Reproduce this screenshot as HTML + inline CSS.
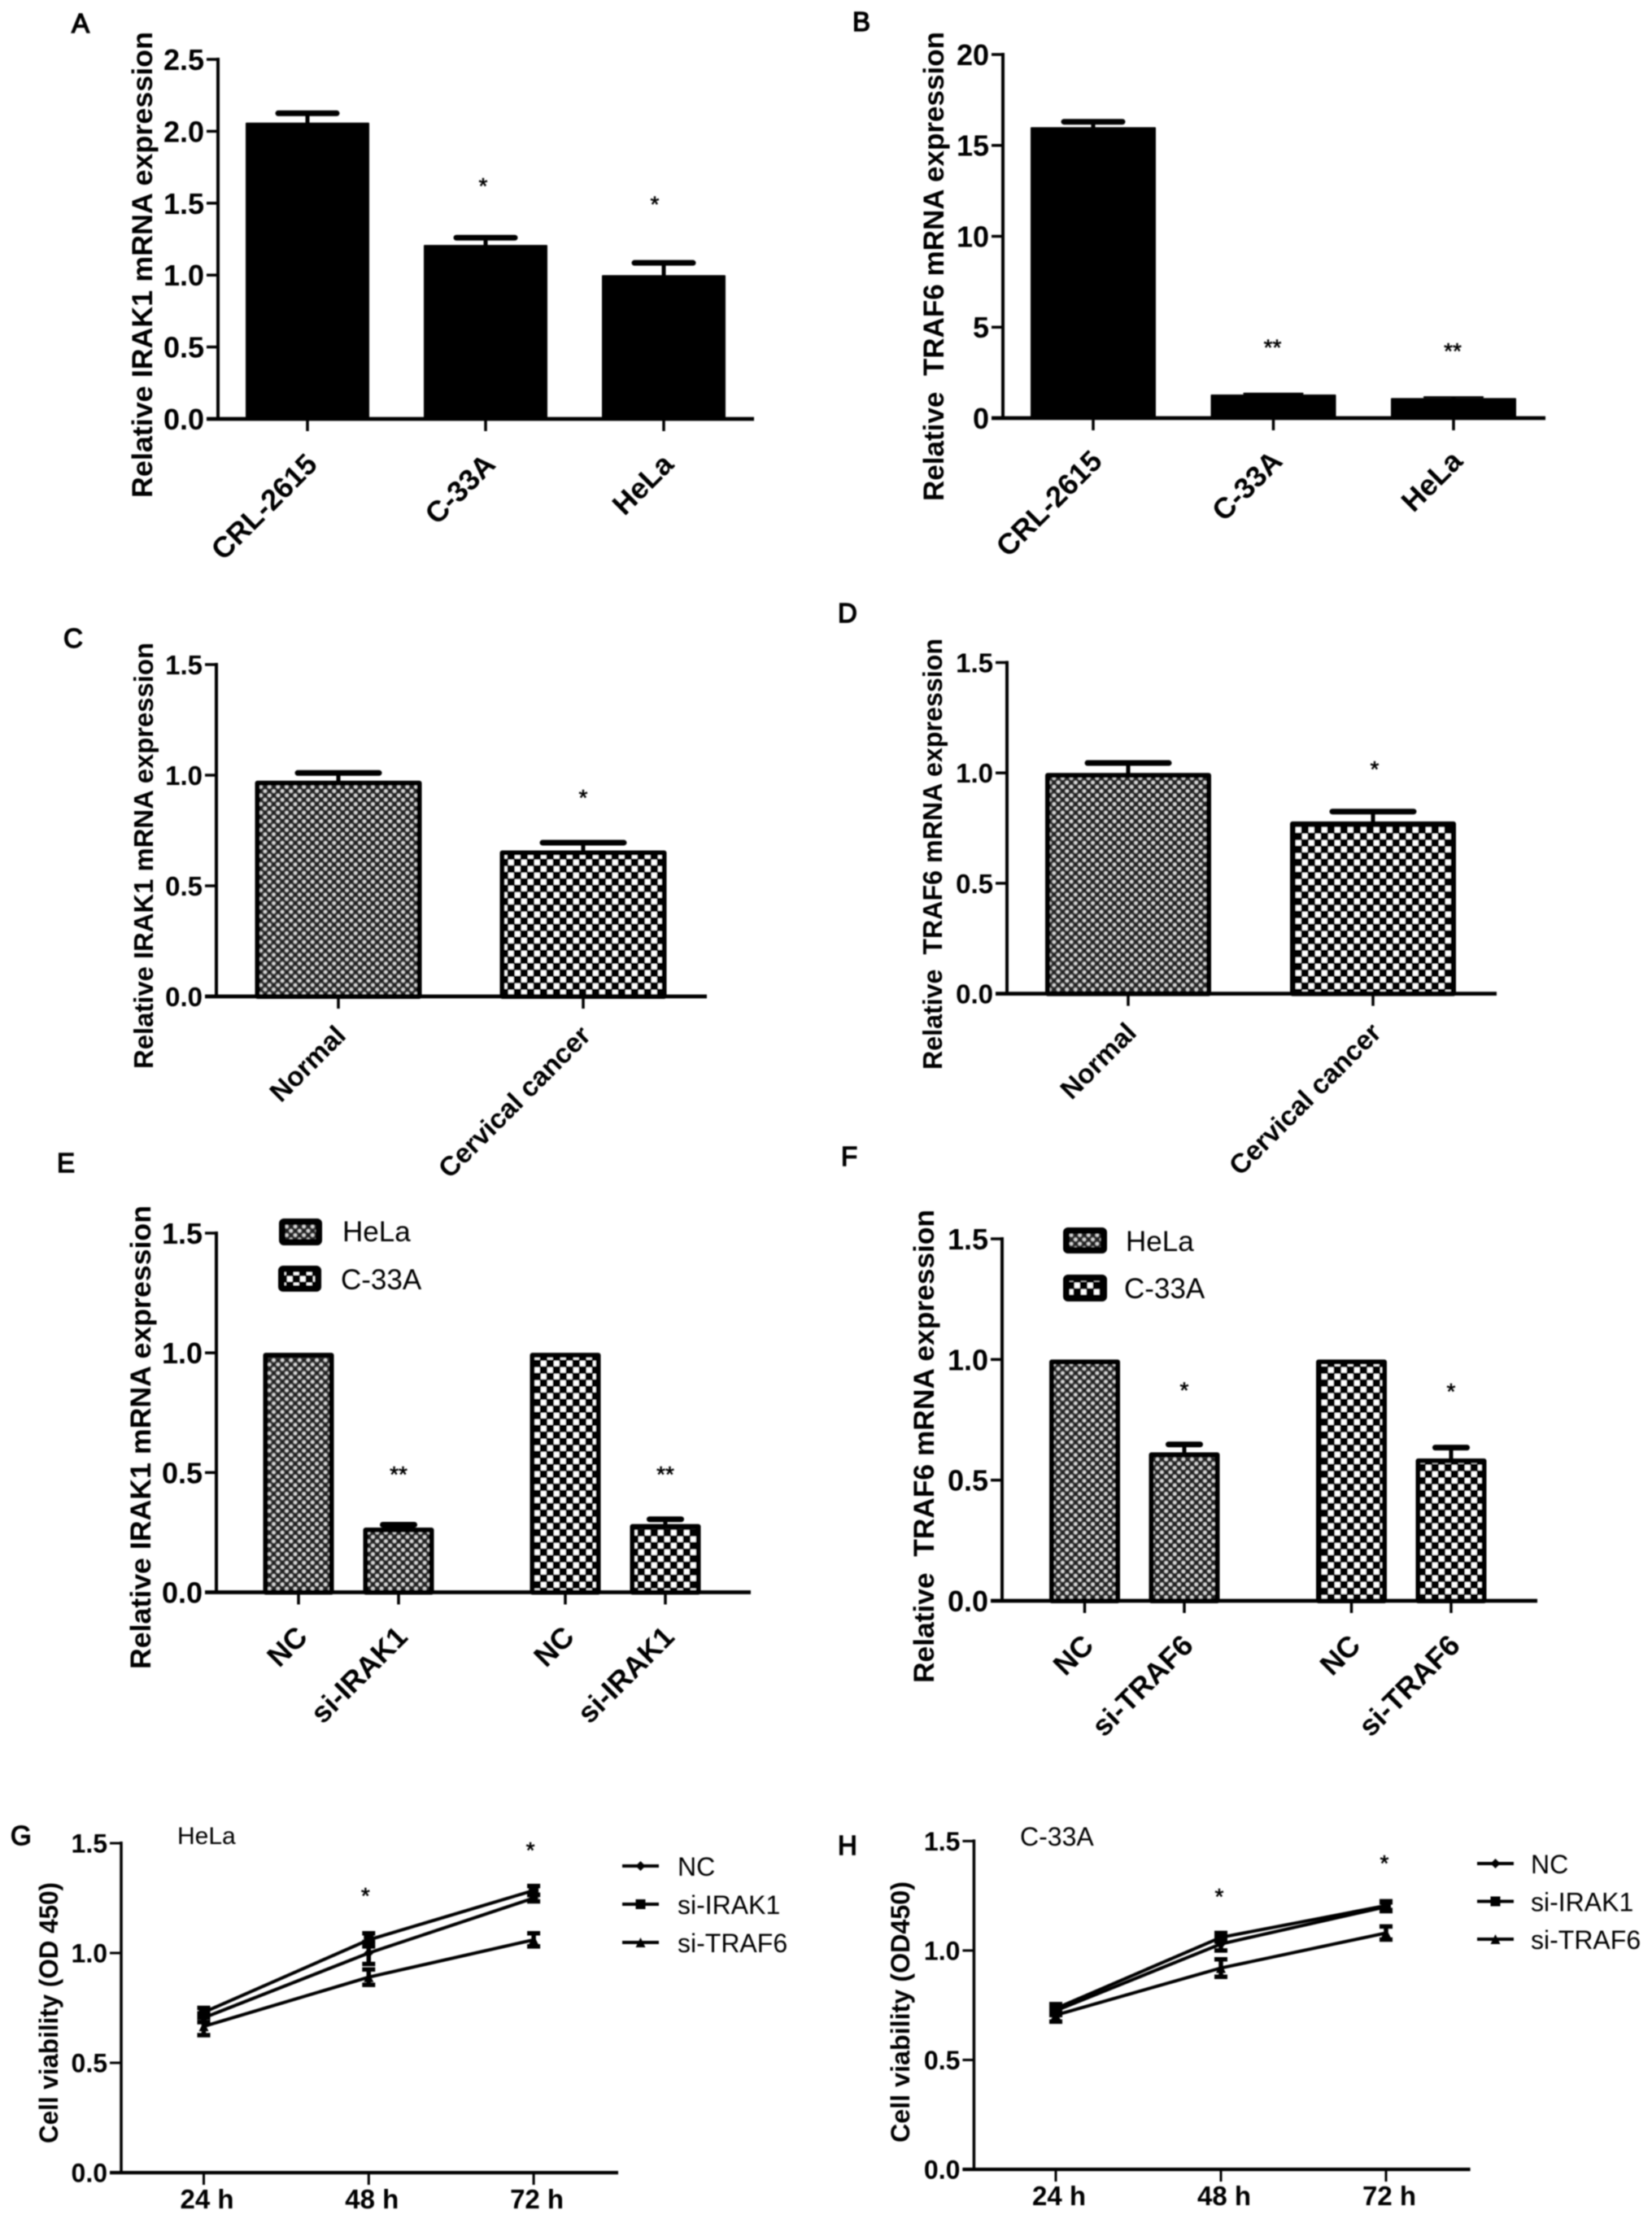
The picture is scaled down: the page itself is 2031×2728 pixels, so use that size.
<!DOCTYPE html>
<html lang="en">
<head>
<meta charset="utf-8">
<title>IRAK1 and TRAF6 expression and cell viability</title>
<style>
html,body{margin:0;padding:0;background:#fff;}
#figure{display:block;width:2031px;height:2728px;background:#fff;}
text{font-family:"Liberation Sans",sans-serif;fill:#000;}
</style>
</head>
<body>
<svg id="figure" xmlns="http://www.w3.org/2000/svg" width="2031" height="2728" viewBox="0 0 2031 2728">
  <defs>
    <filter id="soft" filterUnits="userSpaceOnUse" x="0" y="0" width="2031" height="2728"><feGaussianBlur stdDeviation="0.9"/></filter>
    <pattern id="fine-dots" patternUnits="userSpaceOnUse" width="10.6" height="10.6">
      <rect width="10.6" height="10.6" fill="#333"/>
      <circle cx="2.65" cy="2.65" r="2.2" fill="#d8d8d8"/>
      <circle cx="7.95" cy="7.95" r="2.2" fill="#d8d8d8"/>
      <circle cx="7.95" cy="2.65" r="1.1" fill="#000"/>
      <circle cx="2.65" cy="7.95" r="1.1" fill="#000"/>
    </pattern>
    <pattern id="checker" patternUnits="userSpaceOnUse" width="16" height="16">
      <rect width="16" height="16" fill="#000"/>
      <rect x="1" y="1" width="6.6" height="6.6" fill="#fff"/>
      <rect x="9" y="9" width="6.6" height="6.6" fill="#fff"/>
    </pattern>
  </defs>
  <g id="root" filter="url(#soft)"></g>
</svg>
<script>
// ---------- Panel A ----------
const panelA_categories = ["CRL-2615", "C-33A", "HeLa"];
const panelA_values = [2.06, 1.21, 1.0];
const panelA_errors = [0.065, 0.05, 0.085];
const panelA_stars = ["", "*", "*"];
const panelA_starLevels = [0, 1.646, 1.52];
const panelA_ticks = ["0.0", "0.5", "1.0", "1.5", "2.0", "2.5"];
// ---------- Panel B ----------
const panelB_categories = ["CRL-2615", "C-33A", "HeLa"];
const panelB_values = [16.0, 1.3, 1.1];
const panelB_errors = [0.3, 0.05, 0.05];
const panelB_stars = ["", "**", "**"];
const panelB_starLevels = [0, 4.1, 3.9];
const panelB_ticks = ["0", "5", "10", "15", "20"];
// ---------- Panel C ----------
const panelC_categories = ["Normal", "Cervical cancer"];
const panelC_values = [0.975, 0.66];
const panelC_errors = [0.035, 0.035];
const panelC_stars = ["", "*"];
const panelC_starLevels = [0, 0.915];
const panelC_ticks = ["0.0", "0.5", "1.0", "1.5"];
// ---------- Panel D ----------
const panelD_categories = ["Normal", "Cervical cancer"];
const panelD_values = [1.0, 0.78];
const panelD_errors = [0.045, 0.045];
const panelD_stars = ["", "*"];
const panelD_starLevels = [0, 1.034];
const panelD_ticks = ["0.0", "0.5", "1.0", "1.5"];
// ---------- Panel E ----------
const panelE_categories = ["NC", "si-IRAK1", "NC", "si-IRAK1"];
const panelE_values = [1.0, 0.27, 1.0, 0.285];
const panelE_errors = [0, 0.012, 0, 0.02];
const panelE_stars = ["", "**", "", "**"];
const panelE_starLevels = [0, 0.508, 0, 0.508];
const panelE_ticks = ["0.0", "0.5", "1.0", "1.5"];
const panelE_legend = ["HeLa", "C-33A"];
// ---------- Panel F ----------
const panelF_categories = ["NC", "si-TRAF6", "NC", "si-TRAF6"];
const panelF_values = [1.0, 0.615, 1.0, 0.59];
const panelF_errors = [0, 0.033, 0, 0.045];
const panelF_stars = ["", "*", "", "*"];
const panelF_starLevels = [0, 0.888, 0, 0.883];
const panelF_ticks = ["0.0", "0.5", "1.0", "1.5"];
const panelF_legend = ["HeLa", "C-33A"];
// ---------- Panel G ----------
const panelG_times = ["24 h", "48 h", "72 h"];
const panelG_nc = [0.705, 1.0, 1.25];
const panelG_irak1 = [0.73, 1.06, 1.285];
const panelG_traf6 = [0.666, 0.89, 1.06];
const panelG_ncErr = [0.02, 0.05, 0.015];
const panelG_irak1Err = [0.02, 0.03, 0.02];
const panelG_traf6Err = [0.04, 0.035, 0.03];
const panelG_stars = ["", "*", "*"];
const panelG_starLevels = [0, 1.278, 1.485];
const panelG_ticks = ["0.0", "0.5", "1.0", "1.5"];
// ---------- Panel H ----------
const panelH_times = ["24 h", "48 h", "72 h"];
const panelH_nc = [0.725, 1.03, 1.2];
const panelH_irak1 = [0.735, 1.06, 1.205];
const panelH_traf6 = [0.705, 0.92, 1.08];
const panelH_ncErr = [0.02, 0.03, 0.02];
const panelH_irak1Err = [0.02, 0.02, 0.02];
const panelH_traf6Err = [0.03, 0.04, 0.03];
const panelH_stars = ["", "*", "*"];
const panelH_starLevels = [0, 1.264, 1.416];
const panelH_ticks = ["0.0", "0.5", "1.0", "1.5"];
const lineSeriesNames = ["NC", "si-IRAK1", "si-TRAF6"];

const NS = "http://www.w3.org/2000/svg";
const root = document.getElementById("root");

function make(tag, parent, attrs) {
  const el = document.createElementNS(NS, tag);
  for (const k in attrs) el.setAttribute(k, attrs[k]);
  parent.appendChild(el);
  return el;
}

function slug(s) {
  return String(s).toLowerCase().replace(/[^a-z0-9]+/g, "-").replace(/^-|-$/g, "");
}

function addText(parent, name, str, x, y, size, opts) {
  const o = opts || {};
  const attrs = {x: x, y: y, "font-size": size, "text-anchor": o.anchor || "start", "font-weight": o.weight || "bold"};
  if (o.rotate !== undefined) attrs.transform = "rotate(" + o.rotate + " " + x + " " + y + ")";
  if (o.length) { attrs.textLength = o.length; attrs.lengthAdjust = "spacingAndGlyphs"; }
  const el = make("text", parent, attrs);
  el.textContent = str;
  
  
  return el;
}

function drawFrame(p) {
  const g = make("g", root, {});
  
  
  const maxV = parseFloat(p.ticks[p.ticks.length - 1]);
  const yScale = v => p.y0 - (v / maxV) * (p.y0 - p.yTop);
  const xScale = i => p.first + i * p.step + Math.floor(i / 2) * (p.groupGap || 0);

  const letter = addText(g, "panel-label-" + p.id.toLowerCase(), p.id, p.letter[0], p.letter[1], 33, {weight: "normal"});
  letter.setAttribute("stroke", "#000");
  letter.setAttribute("stroke-width", "1.4");

  const yAxis = make("line", g, {x1: p.x0, x2: p.x0, y1: p.yTop - 2, y2: p.y0 + 2, stroke: "#000", "stroke-width": p.axisW});
  
  
  const xAxis = make("line", g, {x1: p.x0 - 14, x2: p.xEnd, y1: p.y0, y2: p.y0, stroke: "#000", "stroke-width": p.axisW + 0.8});
  
  

  p.ticks.forEach(t => {
    const y = yScale(parseFloat(t));
    const tick = make("line", g, {x1: p.x0 - 14, x2: p.x0, y1: y, y2: y, stroke: "#000", "stroke-width": p.axisW - 0.5});
    
    
    addText(g, "y-tick-label-" + slug(t), t, p.x0 - 17, y + p.tickSize * 0.36, p.tickSize, {anchor: "end"});
  });

  p.categories.forEach((c, i) => {
    const x = xScale(i);
    const tick = make("line", g, {x1: x, x2: x, y1: p.y0, y2: p.y0 + 15, stroke: "#000", "stroke-width": p.axisW - 0.5});
    
    
    if (p.horizontal) {
      addText(g, "x-tick-label-" + slug(c), c, x + 4, p.y0 + 44, 33, {anchor: "middle"});
    } else {
      const ax = x + p.labelDx, ay = p.y0 + p.labelDy;
      addText(g, "x-tick-label-" + slug(c) + "-" + i, c, ax, ay, p.catSize, {anchor: "end", rotate: -45});
    }
  });

  const tx = p.title;
  addText(g, "y-axis-title", tx.text, tx.x, tx.y2, tx.size, {rotate: -90, length: tx.y2 - tx.y1});

  p.stars.forEach((s, i) => {
    if (!s) return;
    const shift = p.starShift ? p.starShift[i] : (p.starDx || 0);
    const x = xScale(i) + shift;
    const star = addText(g, "significance-marker-" + i, s, x, yScale(p.starLevels[i]) + 14, 28, {anchor: "middle", weight: "normal"});
    star.setAttribute("stroke", "#000");
    star.setAttribute("stroke-width", "0.6");
  });
  return {g: g, xScale: xScale, yScale: yScale};
}

function drawBars(p) {
  const f = drawFrame(p);
  p.values.forEach((v, i) => {
    const cx = f.xScale(i), top = f.yScale(v), w = p.barW, sw = p.border;
    const fill = p.fills[i];
    const errPx = top - f.yScale(v + p.errors[i]);
    if (errPx > 0) {
      const capThick = Math.min(7, errPx * 2);
      const cap = make("line", f.g, {x1: cx - p.capW / 2 + 3, x2: cx + p.capW / 2 - 3, y1: top - errPx, y2: top - errPx, stroke: "#000", "stroke-width": capThick, "stroke-linecap": "round"});
      
      
      const stem = make("line", f.g, {x1: cx, x2: cx, y1: top - errPx, y2: top + 2, stroke: "#000", "stroke-width": 5});
      
      
    }
    const bar = make("rect", f.g, {x: cx - w / 2 + sw / 2, y: top + sw / 2, width: w - sw, height: Math.max(0, p.y0 - top - sw / 2), fill: fill, stroke: "#000", "stroke-width": sw, "stroke-linejoin": "round"});
    
    
  });
  if (p.legend) {
    p.legend.forEach((name, i) => {
      const lg = make("g", f.g, {});
      
      
      const pos = p.legendPos[i];
      const sw = make("rect", lg, {x: pos.x + 4, y: pos.y + 4, width: pos.w - 8, height: pos.h - 8, rx: 2, fill: i === 0 ? "url(#fine-dots)" : "url(#checker)", stroke: "#000", "stroke-width": 8, "stroke-linejoin": "round"});
      
      
      addText(lg, "legend-label-" + slug(name), name, pos.tx, pos.ty, 35, {weight: "normal"});
    });
  }
}

function marker(parent, kind, x, y, r, name) {
  let el;
  if (kind === 0) el = make("polygon", parent, {points: [x, y - r, x + r, y, x, y + r, x - r, y].join(",")});
  else if (kind === 1) el = make("rect", parent, {x: x - r, y: y - r, width: 2 * r, height: 2 * r});
  else el = make("polygon", parent, {points: [x, y - r, x + r, y + r, x - r, y + r].join(",")});
  el.setAttribute("fill", "#000");
  
  
  return el;
}

function drawLines(p) {
  const f = drawFrame(p);
  p.series.forEach((vals, s) => {
    const sg = make("g", f.g, {});
    
    
    const pts = vals.map((v, i) => f.xScale(i) + "," + f.yScale(v)).join(" ");
    const line = make("polyline", sg, {points: pts, fill: "none", stroke: "#000", "stroke-width": 4});
    
    
    vals.forEach((v, i) => {
      const x = f.xScale(i), e = p.errors[s][i];
      const err = make("path", sg, {d: "M" + (x - 8) + " " + f.yScale(v + e) + "H" + (x + 8) + "M" + x + " " + f.yScale(v + e) + "V" + f.yScale(v - e) + "M" + (x - 8) + " " + f.yScale(v - e) + "H" + (x + 8), fill: "none", stroke: "#000", "stroke-width": 5.5});
      
      
      marker(sg, s, x, f.yScale(v), 6, "point-" + slug(lineSeriesNames[s]) + "-" + i);
    });
  });
  addText(f.g, "panel-subtitle", p.subtitle.text, p.subtitle.x, p.subtitle.y, p.subtitle.size, {weight: "normal"});
  lineSeriesNames.forEach((name, s) => {
    const y = p.legendY + s * p.legendGap;
    const lg = make("g", f.g, {});
    
    
    const ln = make("line", lg, {x1: p.legendX, x2: p.legendX + 45, y1: y, y2: y, stroke: "#000", "stroke-width": 4});
    
    
    marker(lg, s, p.legendX + 22.5, y, 6, "legend-marker-" + slug(name));
    addText(lg, "legend-label-" + slug(name), name, p.legendTextX, y + 12, 32, {weight: "normal"});
  });
}

const solid = ["#000", "#000", "#000"];
const mix2 = ["url(#fine-dots)", "url(#checker)"];
const mix4 = ["url(#fine-dots)", "url(#fine-dots)", "url(#checker)", "url(#checker)"];

drawBars({id: "A", letter: [88, 40], x0: 268, xEnd: 927, yTop: 73, y0: 515, first: 378, step: 219, barW: 152, capW: 78, border: 2, axisW: 4, tickSize: 36, catSize: 36, labelDx: 14, labelDy: 58, starShift: [0, -3, -11],
  ticks: panelA_ticks, categories: panelA_categories, values: panelA_values, errors: panelA_errors, stars: panelA_stars, starLevels: panelA_starLevels, fills: solid,
  title: {text: "Relative IRAK1 mRNA expression", x: 187, y1: 39, y2: 612, size: 35}});

drawBars({id: "B", letter: [1048, 38], x0: 1233, xEnd: 1900, yTop: 67, y0: 514, first: 1344, step: 221.5, barW: 154, capW: 78, border: 2, axisW: 4, tickSize: 36, catSize: 36, labelDx: 13, labelDy: 55, starDx: -1,
  ticks: panelB_ticks, categories: panelB_categories, values: panelB_values, errors: panelB_errors, stars: panelB_stars, starLevels: panelB_starLevels, fills: solid,
  title: {text: "Relative\u00A0 TRAF6 mRNA expression", x: 1160, y1: 39, y2: 616, size: 35}});

drawBars({id: "C", letter: [78, 796], x0: 266, xEnd: 869, yTop: 817, y0: 1225, first: 416, step: 301, barW: 205, capW: 106, border: 6, axisW: 4, tickSize: 33, catSize: 33.5, labelDx: 11, labelDy: 50,
  ticks: panelC_ticks, categories: panelC_categories, values: panelC_values, errors: panelC_errors, stars: panelC_stars, starLevels: panelC_starLevels, fills: mix2,
  title: {text: "Relative IRAK1 mRNA expression", x: 188, y1: 790, y2: 1314, size: 33}});

drawBars({id: "D", letter: [1030, 765], x0: 1238, xEnd: 1840, yTop: 814.5, y0: 1221.6, first: 1387, step: 301, barW: 204, capW: 106, border: 6, axisW: 4, tickSize: 33, catSize: 33.5, labelDx: 12, labelDy: 50, starDx: 2,
  ticks: panelD_ticks, categories: panelD_categories, values: panelD_values, errors: panelD_errors, stars: panelD_stars, starLevels: panelD_starLevels, fills: mix2,
  title: {text: "Relative\u00A0 TRAF6 mRNA expression", x: 1158, y1: 785, y2: 1315, size: 33}});

drawBars({id: "E", letter: [70, 1441], x0: 266, xEnd: 923, yTop: 1516, y0: 1957.5, first: 367, step: 123, groupGap: 82, barW: 87, capW: 45, border: 6, axisW: 4, tickSize: 36, catSize: 36, labelDx: 13, labelDy: 57,
  ticks: panelE_ticks, categories: panelE_categories, values: panelE_values, errors: panelE_errors, stars: panelE_stars, starLevels: panelE_starLevels, fills: mix4, legend: panelE_legend,
  legendPos: [{x: 343, y: 1498, w: 53, h: 33, tx: 421, ty: 1526}, {x: 342, y: 1556, w: 53, h: 32, tx: 419, ty: 1585}],
  title: {text: "Relative IRAK1 mRNA expression", x: 185, y1: 1482, y2: 2052, size: 35}});

drawBars({id: "F", letter: [1034, 1433], x0: 1232, xEnd: 1890, yTop: 1523, y0: 1968, first: 1333.5, step: 122.5, groupGap: 83, barW: 87, capW: 45, border: 6, axisW: 4, tickSize: 36, catSize: 36, labelDx: 13, labelDy: 57,
  ticks: panelF_ticks, categories: panelF_categories, values: panelF_values, errors: panelF_errors, stars: panelF_stars, starLevels: panelF_starLevels, fills: mix4, legend: panelF_legend,
  legendPos: [{x: 1307, y: 1509, w: 54, h: 32, tx: 1384, ty: 1538}, {x: 1307, y: 1567, w: 54, h: 33, tx: 1382, ty: 1596}],
  title: {text: "Relative\u00A0 TRAF6 mRNA expression", x: 1148, y1: 1487, y2: 2069, size: 35}});

drawLines({id: "G", letter: [13, 2268], x0: 149, xEnd: 760, yTop: 2266, y0: 2671, first: 250.5, step: 202.8, axisW: 3.5, tickSize: 32, horizontal: true,
  ticks: panelG_ticks, categories: panelG_times, series: [panelG_nc, panelG_irak1, panelG_traf6], errors: [panelG_ncErr, panelG_irak1Err, panelG_traf6Err], stars: panelG_stars, starLevels: panelG_starLevels, starDx: -4,
  subtitle: {text: "HeLa", x: 218, y: 2267, size: 30}, legendX: 765, legendTextX: 833, legendY: 2294, legendGap: 47,
  title: {text: "Cell viability (OD 450)", x: 71, y1: 2314, y2: 2635, size: 32}});

drawLines({id: "H", letter: [1030, 2280], x0: 1197.4, xEnd: 1807.6, yTop: 2263.4, y0: 2667, first: 1298, step: 203, axisW: 3.5, tickSize: 32, horizontal: true,
  ticks: panelH_ticks, categories: panelH_times, series: [panelH_nc, panelH_irak1, panelH_traf6], errors: [panelH_ncErr, panelH_irak1Err, panelH_traf6Err], stars: panelH_stars, starLevels: panelH_starLevels, starDx: -2,
  subtitle: {text: "C-33A", x: 1254, y: 2269, size: 32}, legendX: 1816, legendTextX: 1882, legendY: 2291, legendGap: 46.5,
  title: {text: "Cell viability (OD450)", x: 1118, y1: 2313, y2: 2634, size: 32}});
</script>
</body>
</html>
